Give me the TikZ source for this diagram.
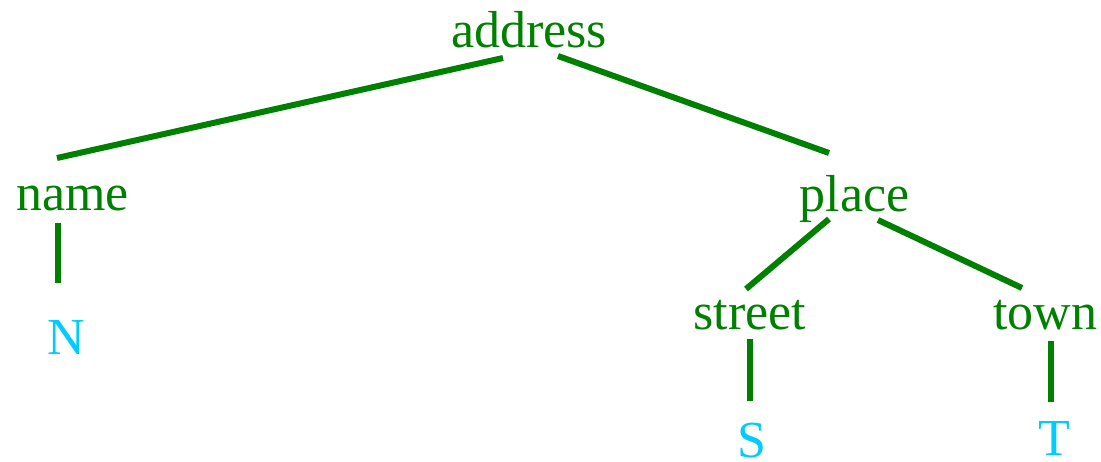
\documentclass[tikz,border=0pt]{standalone}
\usepackage{fontspec}
\setmainfont{Liberation Serif}
\definecolor{treegreen}{RGB}{0,128,0}
\definecolor{leafcyan}{RGB}{0,204,255}
\begin{document}
\begin{tikzpicture}[x=1pt,y=-1pt,
  inner/.style={anchor=base,inner sep=0pt,text=treegreen,font=\fontsize{52}{60}\selectfont},
  leaf/.style={anchor=base,inner sep=0pt,text=leafcyan,font=\fontsize{52}{60}\selectfont},
  edge/.style={draw=treegreen,line width=6pt}]
\useasboundingbox (0,0) rectangle (1101,461);
% labelled nodes of the tree
\node[inner] (address) at (529,47) {address};
\node[inner] (name)    at (72.5,210) {name};
\node[inner] (place)   at (854.5,211) {place};
\node[inner] (street)  at (750,329) {street};
\node[inner] (town)    at (1045.5,329) {town};
\node[leaf]  (N)       at (66,354) {N};
\node[leaf]  (S)       at (751.5,457) {S};
\node[leaf]  (T)       at (1054,455) {T};
% branches
\draw[edge] ([shift={(-26,11)}]address.base) -- ([shift={(-15.5,-52)}]name.base);
\draw[edge] ([shift={(29,9)}]address.base) -- ([shift={(-25.5,-58)}]place.base);
\draw[edge] ([shift={(-14.5,13)}]name.base) -- ([shift={(-8,-71)}]N.base);
\draw[edge] ([shift={(-25.5,8)}]place.base) -- ([shift={(-4,-40)}]street.base);
\draw[edge] ([shift={(23.5,9)}]place.base) -- ([shift={(-23.5,-41)}]town.base);
\draw[edge] ([shift={(0,10)}]street.base) -- ([shift={(-1.5,-56)}]S.base);
\draw[edge] ([shift={(5.5,12)}]town.base) -- ([shift={(-3,-53)}]T.base);
\end{tikzpicture}
\end{document}
